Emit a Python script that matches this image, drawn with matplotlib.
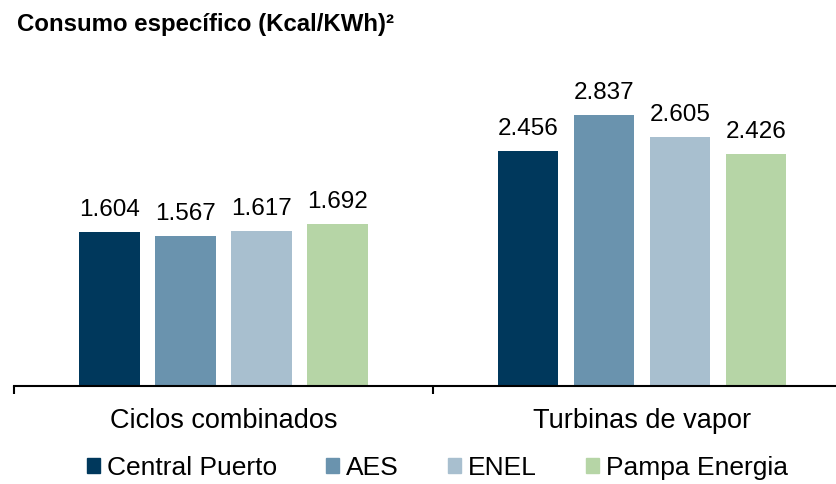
import numpy as np
from matplotlib import pyplot as plt
from matplotlib.patches import Patch

plt.rcParams['font.family'] = ['Liberation Sans', 'DejaVu Sans']

categorias = ['Ciclos combinados', 'Turbinas de vapor']
empresas = ['Central Puerto', 'AES', 'ENEL', 'Pampa Energia']
valores = {
    'Central Puerto': [1.604, 2.456],
    'AES': [1.567, 2.837],
    'ENEL': [1.617, 2.605],
    'Pampa Energia': [1.692, 2.426],
}
colores = ['#00385C', '#6A93AE', '#A8BFCF', '#B6D5A6']

fig = plt.figure(figsize=(8.36, 4.84), dpi=100)
ax = fig.add_axes([0.01705, 0.203, 0.98295, 0.5926])

x = np.arange(len(categorias))
ancho = 0.1434
paso = 0.1816
for i, (emp, col) in enumerate(zip(empresas, colores)):
    pos = x + (i - 1.5) * paso
    ax.bar(pos, valores[emp], width=ancho, color=col)
    for px, v in zip(pos, valores[emp]):
        ax.annotate(f'{v:.3f}', (px, v), xytext=(0, 11.5), textcoords='offset points',
                    ha='center', va='baseline', fontsize=17.5)

for s in ['left', 'top', 'right']:
    ax.spines[s].set_visible(False)
ax.spines['bottom'].set_linewidth(1.5)
ax.set_yticks([])
ax.set_xticks(x)
ax.set_xticklabels(categorias, fontsize=19.5)
ax.tick_params(axis='x', which='major', length=0, pad=16)
ax.set_xticks([-0.5, 0.5], minor=True)
ax.tick_params(axis='x', which='minor', length=6, width=1.5, direction='out')
# los limites van despues de los ticks (set_xticks amplia la vista)
ax.set_xlim(-0.5, 1.4636)
ax.set_ylim(0, 3.0)

fig.text(0.02, 1 - 25 / 484, 'Consumo específico (Kcal/KWh)²', fontsize=17.3,
         fontweight='bold', va='center', ha='left')

handles = [Patch(color=c) for c in colores]
fig.legend(handles, empresas, loc='center', bbox_to_anchor=(0.5233, 1 - 468 / 484),
           ncol=4, frameon=False, fontsize=19, handlelength=0.5, handleheight=0.5,
           handletextpad=0.27, columnspacing=1.85, borderaxespad=0)

fig.savefig('out.png', dpi=100)
